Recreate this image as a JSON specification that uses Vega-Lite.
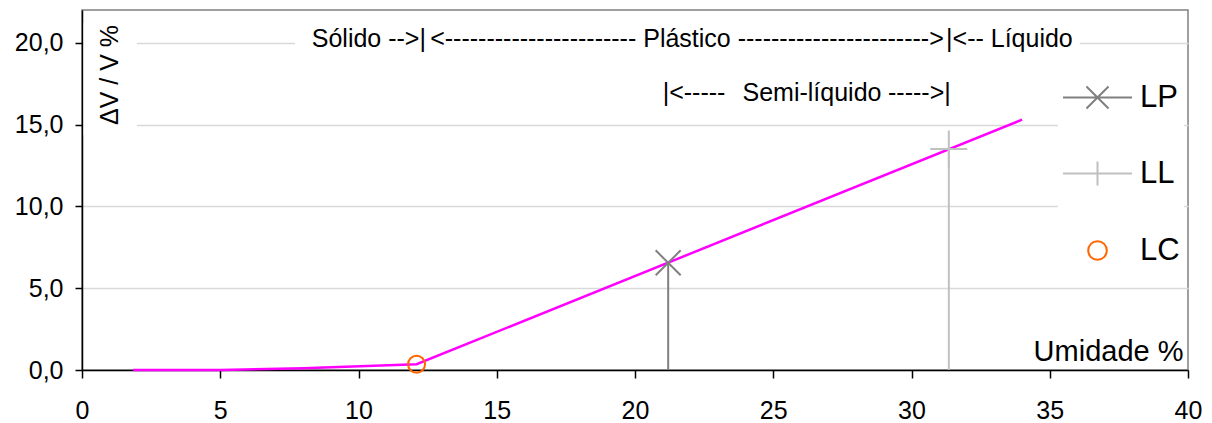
{
  "$schema": "https://vega.github.io/schema/vega-lite/v6.json",
  "width": 1106,
  "height": 360,
  "autosize": {"type": "none"},
  "padding": {"left": 82, "top": 10, "right": 24, "bottom": 53},
  "background": "white",
  "config": {
    "font": "Liberation Sans",
    "view": {"stroke": "#808080", "strokeWidth": 1.5},
    "text": {"font": "Liberation Sans"}
  },
  "datasets": {
    "boxes": [
      {"x": 0.06, "x2": 1.99, "y": 14.35, "y2": 21.2},
      {"x": 7.7, "x2": 36.09, "y": 19.3, "y2": 20.8}
    ],
    "curve": [
      {"x": 1.85, "y": 0},
      {"x": 5, "y": 0},
      {"x": 8, "y": 0.1},
      {"x": 12.1, "y": 0.35},
      {"x": 34, "y": 15.3}
    ],
    "limits": [
      {"series": "LP", "x": 21.2, "y": 6.55},
      {"series": "LL", "x": 31.35, "y": 13.5},
      {"series": "LC", "x": 12.1, "y": 0.35}
    ],
    "notesLeft": [
      {"text": "|<-- Líquido", "x": 31.25, "y": 19.74},
      {"text": "|<-----", "x": 21.0, "y": 16.41}
    ],
    "notesRight": [
      {"text": "Sólido -->|", "x": 12.44, "y": 19.74},
      {"text": "----->|", "x": 31.42, "y": 16.41}
    ],
    "notesCenter": [
      {"text": "<----------------------- Plástico ----------------------->", "x": 21.88, "y": 19.74},
      {"text": "Semi-líquido", "x": 26.4, "y": 16.41}
    ],
    "yTitle": [
      {"text": "ΔV / V %", "x": 1.31, "y": 18.03}
    ]
  },
  "layer": [
    {
      "data": {"name": "boxes"},
      "mark": {"type": "rect", "fill": "white", "strokeWidth": 0},
      "encoding": {
        "x": {
          "field": "x", "type": "quantitative",
          "scale": {"domain": [0, 40], "nice": false, "zero": false},
          "title": "Umidade %",
          "axis": {
            "values": [0, 5, 10, 15, 20, 25, 30, 35, 40],
            "grid": false,
            "domainColor": "black", "domainWidth": 1.5,
            "tickColor": "black", "tickWidth": 1.5, "tickSize": 8,
            "labelFontSize": 25, "labelColor": "black", "labelPadding": 20, "labelFlush": false,
            "titleFontSize": 29, "titleFontWeight": "normal", "titleColor": "black",
            "titleX": 1101, "titleY": -10, "titleAlign": "right", "titleBaseline": "alphabetic", "titleAnchor": null
          }
        },
        "x2": {"field": "x2"},
        "y": {
          "field": "y", "type": "quantitative",
          "scale": {"domain": [0, 22], "nice": false, "zero": false},
          "title": null,
          "axis": {
            "values": [0, 5, 10, 15, 20],
            "grid": true, "gridColor": "#D9D9D9", "gridWidth": 1.5,
            "domainColor": "black", "domainWidth": 1.5,
            "tickColor": "black", "tickWidth": 1.5, "tickSize": 7,
            "labelFontSize": 25, "labelColor": "black", "labelPadding": 12,
            "labelExpr": "replace(format(datum.value, '.1f'), '.', ',')"
          }
        },
        "y2": {"field": "y2"}
      }
    },
    {
      "data": {"name": "curve"},
      "mark": {"type": "line", "color": "#FF00FF", "strokeWidth": 2.5},
      "encoding": {
        "x": {"field": "x", "type": "quantitative", "title": "Umidade %"},
        "y": {"field": "y", "type": "quantitative", "title": null}
      }
    },
    {
      "data": {"name": "limits"},
      "transform": [{"filter": "datum.series === 'LP'"}],
      "mark": {"type": "rule", "strokeWidth": 2, "color": "#808080"},
      "encoding": {
        "x": {"field": "x", "type": "quantitative", "title": "Umidade %"},
        "y": {"field": "y", "type": "quantitative", "title": null},
        "y2": {"datum": 0}
      }
    },
    {
      "data": {"name": "limits"},
      "transform": [{"filter": "datum.series === 'LL'"}],
      "mark": {"type": "rule", "strokeWidth": 2, "color": "#C0C0C0"},
      "encoding": {
        "x": {"field": "x", "type": "quantitative", "title": "Umidade %"},
        "y": {"field": "y", "type": "quantitative", "title": null},
        "y2": {"datum": 0}
      }
    },
    {
      "data": {"name": "limits"},
      "transform": [{"filter": "datum.series === 'LP'"}],
      "mark": {"type": "point", "filled": false, "strokeWidth": 2, "size": 625, "opacity": 1, "color": "#808080", "shape": "M-1,-1L1,1M-1,1L1,-1"},
      "encoding": {
        "x": {"field": "x", "type": "quantitative", "title": "Umidade %"},
        "y": {"field": "y", "type": "quantitative", "title": null}
      }
    },
    {
      "data": {"name": "limits"},
      "transform": [{"filter": "datum.series === 'LL'"}],
      "mark": {"type": "point", "filled": false, "strokeWidth": 2, "size": 1369, "opacity": 1, "color": "#C0C0C0", "shape": "M-1,0L1,0M0,-1L0,1"},
      "encoding": {
        "x": {"field": "x", "type": "quantitative", "title": "Umidade %"},
        "y": {"field": "y", "type": "quantitative", "title": null}
      }
    },
    {
      "data": {"name": "limits"},
      "transform": [{"filter": "datum.series === 'LC'"}],
      "mark": {"type": "point", "filled": false, "strokeWidth": 2, "size": 3969, "opacity": 1},
      "encoding": {
        "x": {"field": "x", "type": "quantitative", "title": "Umidade %"},
        "y": {"field": "y", "type": "quantitative", "title": null},
        "color": {
          "field": "series", "type": "nominal",
          "scale": {"domain": ["LP", "LL", "LC"], "range": ["#808080", "#C0C0C0", "#FF6600"]},
          "legend": {
            "title": null,
            "orient": "none", "legendX": 976, "legendY": 48,
            "fillColor": "white", "padding": 4,
            "labelFontSize": 31, "labelColor": "black", "labelFont": "Liberation Sans",
            "labelOffset": 7, "rowPadding": 25,
            "symbolStrokeWidth": 2, "symbolSize": 4761, "symbolFillColor": "transparent", "symbolOpacity": 1
          }
        },
        "shape": {
          "field": "series", "type": "nominal",
          "scale": {
            "domain": ["LP", "LL", "LC"],
            "range": [
              "M-1,0L1,0M-0.32,-0.32L0.32,0.32M-0.32,0.32L0.32,-0.32",
              "M-1,0L1,0M0,-0.35L0,0.35",
              "M0.27,0A0.27,0.27,0,1,1,-0.27,0A0.27,0.27,0,1,1,0.27,0Z"
            ]
          }
        }
      }
    },
    {
      "data": {"name": "notesLeft"},
      "mark": {"type": "text", "align": "left", "baseline": "alphabetic", "fontSize": 25, "color": "black"},
      "encoding": {
        "x": {"field": "x", "type": "quantitative", "title": "Umidade %"},
        "y": {"field": "y", "type": "quantitative", "title": null},
        "text": {"field": "text"}
      }
    },
    {
      "data": {"name": "notesRight"},
      "mark": {"type": "text", "align": "right", "baseline": "alphabetic", "fontSize": 25, "color": "black"},
      "encoding": {
        "x": {"field": "x", "type": "quantitative", "title": "Umidade %"},
        "y": {"field": "y", "type": "quantitative", "title": null},
        "text": {"field": "text"}
      }
    },
    {
      "data": {"name": "notesCenter"},
      "mark": {"type": "text", "align": "center", "baseline": "alphabetic", "fontSize": 25, "color": "black"},
      "encoding": {
        "x": {"field": "x", "type": "quantitative", "title": "Umidade %"},
        "y": {"field": "y", "type": "quantitative", "title": null},
        "text": {"field": "text"}
      }
    },
    {
      "data": {"name": "yTitle"},
      "mark": {"type": "text", "align": "center", "baseline": "alphabetic", "fontSize": 25, "color": "black", "angle": 270},
      "encoding": {
        "x": {"field": "x", "type": "quantitative", "title": "Umidade %"},
        "y": {"field": "y", "type": "quantitative", "title": null},
        "text": {"field": "text"}
      }
    }
  ]
}
